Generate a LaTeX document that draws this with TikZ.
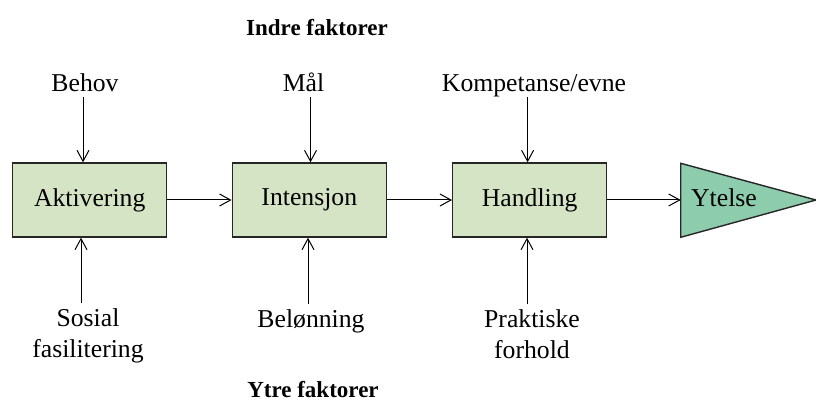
\documentclass[tikz,border=0pt]{standalone}
\usepackage{fontspec}
\setmainfont{Liberation Serif}
\usetikzlibrary{arrows.meta}
\definecolor{boxgreen}{RGB}{213,228,197}
\definecolor{tealgreen}{RGB}{142,204,174}
\begin{document}
\begin{tikzpicture}[x=1pt,y=-1pt,
  stagebox/.style={draw=black!85, line width=1.4pt, fill=boxgreen, minimum width=154pt, minimum height=74pt, inner sep=0pt, font=\fontsize{25.7}{31}\selectfont},
  lbl/.style={inner sep=0pt, font=\fontsize{25.7}{31}\selectfont, align=center},
  head/.style={inner sep=0pt, font=\bfseries\fontsize{23}{28}\selectfont},
  arr/.style={line width=1pt, -{Straight Barb[length=11pt,width=12pt,line width=1pt]}}]
\useasboundingbox (0,0) rectangle (816,403);
% stages
\node[stagebox] (akt) at (89.7,200) {Aktivering};
\node[stagebox] (int) at (309.3,200) {Intensjon};
\node[stagebox] (han) at (529.7,200) {Handling};
\draw[line width=1.4pt, fill=tealgreen, draw=black!85] (680.7,163.3) -- (816,200) -- (680.7,237.3) -- cycle;
\coordinate (ytin) at (680.7,200);
\node[lbl, anchor=base] (ytelse) at (724,206.7) {Ytelse};
% horizontal arrows
\draw[arr] (akt.east) -- (int.west);
\draw[arr] (int.east) -- (han.west);
\draw[arr] (han.east) -- (ytin);
% headings
\node[head, anchor=base] (indre) at (317,36) {Indre faktorer};
\node[head, anchor=base] (ytre) at (313,397.5) {Ytre faktorer};
% top labels
\node[lbl, anchor=base] (behov) at (85,92) {Behov};
\node[lbl, anchor=base] (mal) at (303.5,92) {Mål};
\node[lbl, anchor=base] (komp) at (534,92) {Kompetanse/evne};
\coordinate (bt) at ([xshift=-2pt,yshift=-5pt]behov.base);
\coordinate (mt) at ([xshift=7pt,yshift=-5pt]mal.base);
\coordinate (kt) at ([xshift=-6.4pt,yshift=-5pt]komp.base);
\draw[arr] (bt) -- (bt |- akt.north);
\draw[arr] (mt) -- (mt |- int.north);
\draw[arr] (kt) -- (kt |- han.north);
% bottom labels
\node[lbl, anchor=north] (sosial) at (88,308.4) {Sosial\\fasilitering};
\node[lbl, anchor=base] (belon) at (311,327) {Belønning};
\node[lbl, anchor=north] (prakt) at (532,309.4) {Praktiske\\forhold};
\coordinate (sb) at ([xshift=-7pt,yshift=5pt]sosial.north);
\coordinate (bb) at ([xshift=-3pt,yshift=5pt]belon.north);
\coordinate (pb) at ([xshift=-5pt,yshift=5pt]prakt.north);
\draw[arr] (sb) -- (sb |- akt.south);
\draw[arr] (bb) -- (bb |- int.south);
\draw[arr] (pb) -- (pb |- han.south);
\end{tikzpicture}
\end{document}
